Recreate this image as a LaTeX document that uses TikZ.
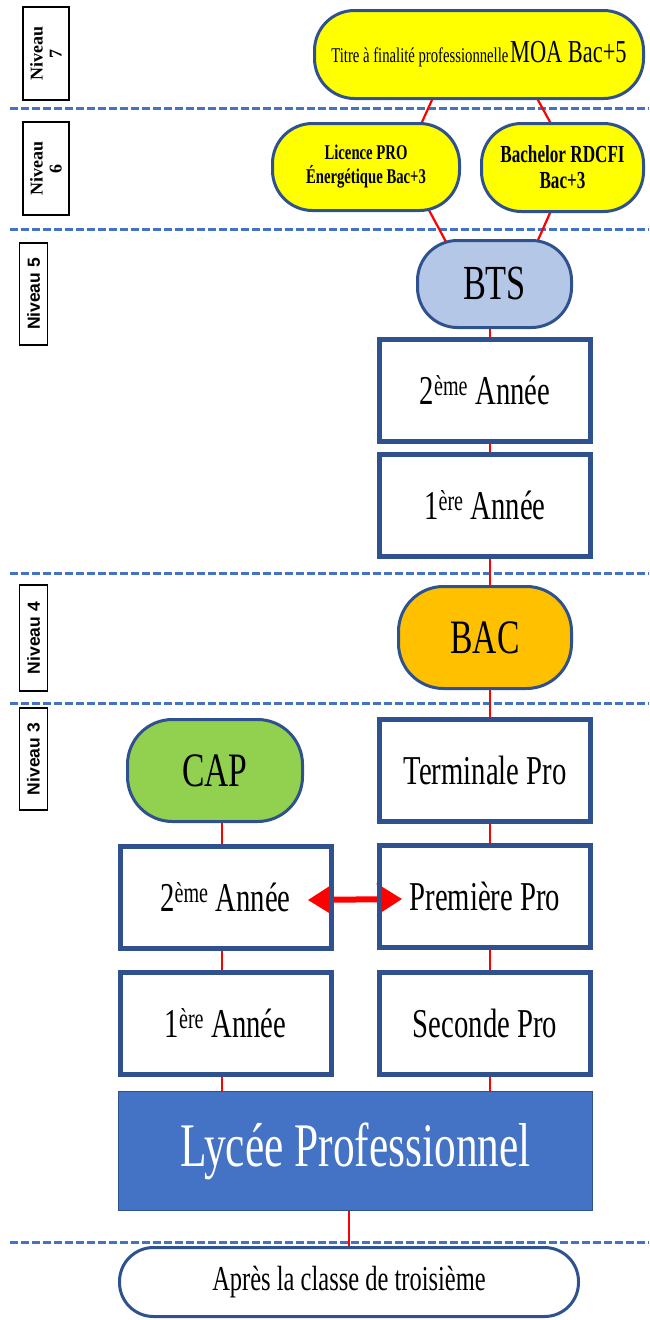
\documentclass[tikz,border=0pt]{standalone}
\usepackage{fontspec}
\setmainfont{Liberation Serif}[FakeStretch=0.7]
\newfontfamily\lvlfont{Liberation Sans}
\newfontfamily\lvlserif{Liberation Serif}
\usetikzlibrary{arrows.meta,calc}
\pgfdeclarelayer{bg}
\pgfsetlayers{bg,main}
\definecolor{bord}{HTML}{2F528F}
\definecolor{dashblue}{HTML}{4472C4}
\definecolor{ylw}{HTML}{FFFF00}
\definecolor{btsfill}{HTML}{B4C7E7}
\definecolor{bacfill}{HTML}{FFC000}
\definecolor{capfill}{HTML}{92D050}
\definecolor{lyfill}{HTML}{4472C4}
\tikzset{
  stad/.style={draw=bord, line width=3pt, rounded corners=40pt, align=center, inner sep=0pt},
  boxx/.style={draw=bord, line width=5pt, fill=white, minimum width=211pt, minimum height=102pt,
    inner sep=0pt, outer sep=0pt, font=\fontsize{41}{45}\selectfont},
  lvl/.style={draw=black, line width=1.2pt, fill=white, rotate=90, inner sep=0pt, align=center,
    font=\lvlfont\bfseries\fontsize{17.5}{18}\selectfont},
  lvlser/.style={lvl, font=\lvlserif\bfseries\fontsize{18}{19}\selectfont},
  link/.style={draw=red, line width=2.2pt},
  sep/.style={draw=dashblue, line width=3pt, dash pattern=on 8pt off 3pt},
  bigarrow/.style={draw=red, line width=6pt,
    {Stealth[length=25pt,width=31pt,inset=5pt]}-{Stealth[length=25pt,width=31pt,inset=5pt]}},
  reborder/.style={draw=bord, line width=5pt},
}
\begin{document}
\begin{tikzpicture}[x=1pt,y=-1pt]
\useasboundingbox (0,0) rectangle (649,1320);
% level labels
\node[lvlser, minimum width=93pt, minimum height=46pt] (n7) at (46,53.5) {Niveau\\7};
\node[lvlser, minimum width=93pt, minimum height=46pt] (n6) at (46,168.5) {Niveau\\6};
\node[lvl, minimum width=102pt, minimum height=28pt] (n5) at (33.5,294) {Niveau 5};
\node[lvl, minimum width=106pt, minimum height=28pt] (n4) at (33.5,638) {Niveau 4};
\node[lvl, minimum width=102pt, minimum height=28pt] (n3) at (33.5,759) {Niveau 3};
% level 7
\node[stad, fill=ylw, minimum width=329pt, minimum height=88pt] (moa) at (479,54.5)
  {{\fontsize{21}{24}\selectfont Titre à finalité professionnelle}\,{\fontsize{32}{36}\selectfont MOA Bac+5}};
% level 6
\node[stad, fill=ylw, minimum width=187pt, minimum height=87pt, font=\bfseries\fontsize{21}{24}\selectfont] (lic) at (366,167)
  {Licence PRO\\Énergétique Bac+3};
\node[stad, fill=ylw, minimum width=162pt, minimum height=88pt, font=\bfseries\fontsize{24.5}{26}\selectfont] (bach) at (562.5,167.5)
  {Bachelor RDCFI\\Bac+3};
% level 5
\node[stad, fill=btsfill, minimum width=154pt, minimum height=87pt, font=\fontsize{49}{52}\selectfont] (bts) at (494.5,284) {BTS};
\node[boxx] (bts2) at (485,390.5) {2\textsuperscript{ème} Année};
\node[boxx] (bts1) at (485,505.5) {1\textsuperscript{ère} Année};
% level 4
\node[stad, fill=bacfill, minimum width=173pt, minimum height=102pt, rounded corners=45pt, font=\fontsize{48}{50}\selectfont] (bac) at (485,637.5) {BAC};
% level 3
\node[stad, fill=capfill, minimum width=175pt, minimum height=102pt, rounded corners=45pt, font=\fontsize{48}{50}\selectfont] (cap) at (215,770.5) {CAP};
\node[boxx] (term) at (485,770.5) {Terminale Pro};
\node[boxx] (cap2) at (225.5,897) {2\textsuperscript{ème} Année};
\node[boxx] (prem) at (485,896) {Première Pro};
\node[boxx] (cap1) at (225.5,1023) {1\textsuperscript{ère} Année};
\node[boxx] (sec) at (485,1023) {Seconde Pro};
\node[draw=bord, line width=1pt, fill=lyfill, text=white, minimum width=474pt, minimum height=119pt,
  inner sep=0pt, font=\fontsize{62}{64}\selectfont] (lycee) at (355.5,1151) {Lycée Professionnel};
\node[stad, fill=white, minimum width=459pt, minimum height=69pt, rounded corners=34pt,
  font=\fontsize{35}{38}\selectfont] (apres) at (349,1282) {Après la classe de troisième};
% arrow between the two columns (under the box borders)
\draw[bigarrow] ($(cap2.east)+(-23,3)$) -- ($(prem.west)+(22.5,3)$);
\draw[reborder] (cap2.south west) rectangle (cap2.north east);
\draw[reborder] (prem.south west) rectangle (prem.north east);
% background: separators and connectors
\coordinate (colL) at (222,0);
\coordinate (colR) at (490,0);
\begin{pgfonlayer}{bg}
\fill[white] (0,0) rectangle (649,1320);
\draw[sep] (10,108) -- (649,108);
\draw[sep] (10,229) -- (649,229);
\draw[sep] (10,573) -- (649,573);
\draw[sep] (10,703) -- (649,703);
\draw[sep] (10,1242) -- (649,1242);
\draw[link] ($(moa.south)+(-42.5,-10)$) -- ($(lic.north)+(51.5,10)$);
\draw[link] ($(moa.south)+(53.5,-10)$) -- ($(bach.north)+(-7,10)$);
\draw[link] ($(lic.south)+(58.6,-10)$) -- ($(bts.north)+(-44.1,11)$);
\draw[link] ($(bach.south)+(-8.1,-10)$) -- ($(bts.north)+(39.1,11)$);
\draw[link] (bts.center -| colR) -- (bts2.center -| colR);
\draw[link] (bts2.center -| colR) -- (bts1.center -| colR);
\draw[link] (bts1.center -| colR) -- (bac.center -| colR);
\draw[link] (bac.center -| colR) -- (term.center -| colR);
\draw[link] (term.center -| colR) -- (prem.center -| colR);
\draw[link] (prem.center -| colR) -- (sec.center -| colR);
\draw[link] (sec.center -| colR) -- (lycee.center -| colR);
\draw[link] (cap.center -| colL) -- (cap2.center -| colL);
\draw[link] (cap2.center -| colL) -- (cap1.center -| colL);
\draw[link] (cap1.center -| colL) -- (lycee.center -| colL);
\draw[link] (lycee.center -| apres.north) -- (apres.center);
\end{pgfonlayer}
\end{tikzpicture}
\end{document}
